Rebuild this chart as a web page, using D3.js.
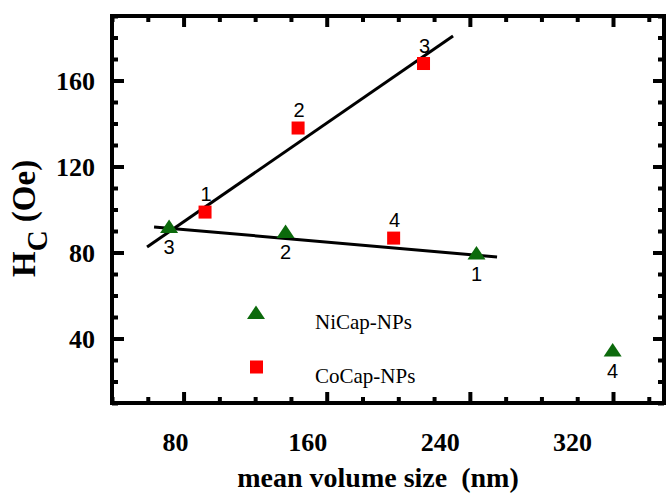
<!doctype html>
<html>
<head>
<meta charset="utf-8">
<title>Hc vs mean volume size</title>
<script src="https://d3js.org/d3.v7.min.js"></script>
<style>
  body { margin: 0; background: #fff; }
  svg text { fill: #000; }
  .tick-lbl { font-family: "Liberation Serif", "Times New Roman", serif; font-weight: bold; font-size: 26px; }
  .pt-lbl { font-family: "Liberation Sans", Arial, sans-serif; font-size: 20px; }
  .leg { font-family: "Liberation Serif", "Times New Roman", serif; font-size: 21px; }
</style>
</head>
<body>
<div id="plot"></div>
<script>
// data
const niSize = [243.7, 137, 71.9, 319.8];
const niHc   = [79.8, 89.8, 92.1, 34.7];
const niLbl  = ["1", "2", "3", "4"];

const coSize = [92, 144, 214.1, 197.4];
const coHc   = [98.8, 137.9, 167.9, 86.7];
const coLbl  = ["1", "2", "3", "4"];

// linear fit lines (end points)
const coFitX = [59.6, 230.6];
const coFitY = [82.6, 180.7];
const niFitX = [63.5, 255.2];
const niFitY = [91.9, 77.9];

const xTicks = [80, 160, 240, 320];
const yTicks = [40, 80, 120, 160];
const seriesNames = ["NiCap-NPs", "CoCap-NPs"];

const W = 667, H = 496;
const margin = {top: 16, right: 3, bottom: 93, left: 112};

const svg = d3.select("#plot").append("svg")
  .attr("width", W).attr("height", H);

const x = d3.scaleLinear().domain([40, 348.5]).range([margin.left, W - margin.right]);
const y = d3.scaleLinear().domain([10, 190]).range([H - margin.bottom, margin.top]);
// tick labels in the figure sit a bit off their ticks
const xl = d3.scaleLinear().domain([80, 320]).range([175, 572]);

const green = "#0c6a0c", red = "#ff0000";
const x0 = x.range()[0], x1 = x.range()[1], y0 = y.range()[0], y1 = y.range()[1];

// minor ticks
const xMinor = d3.range(40, 349, 20).filter(v => xTicks.indexOf(v) < 0);
const yMinor = d3.range(10, 191, 10).filter(v => yTicks.indexOf(v) < 0);

function styleAxis(g) {
  g.select(".domain").remove();
  g.selectAll(".tick line").attr("stroke", "#000").attr("stroke-width", 4);
}

// bottom
svg.append("g").attr("transform", `translate(0,${y0})`)
  .call(d3.axisBottom(x).tickValues(xMinor).tickSize(-6).tickFormat(""))
  .call(styleAxis);
const bx = svg.append("g").attr("transform", `translate(0,${y0})`)
  .call(d3.axisBottom(x).tickValues(xTicks).tickSize(-11).tickPadding(0))
  .call(styleAxis);
bx.selectAll("text").attr("class", "tick-lbl")
  .attr("x", d => xl(d) - x(d)).attr("y", 48).attr("dy", null);

// top
svg.append("g").attr("transform", `translate(0,${y1})`)
  .call(d3.axisTop(x).tickValues(xMinor).tickSize(-6).tickFormat(""))
  .call(styleAxis);
svg.append("g").attr("transform", `translate(0,${y1})`)
  .call(d3.axisTop(x).tickValues(xTicks).tickSize(-11).tickFormat(""))
  .call(styleAxis);

// left
svg.append("g").attr("transform", `translate(${x0},0)`)
  .call(d3.axisLeft(y).tickValues(yMinor).tickSize(-6).tickFormat(""))
  .call(styleAxis);
const ly = svg.append("g").attr("transform", `translate(${x0},0)`)
  .call(d3.axisLeft(y).tickValues(yTicks).tickSize(-12).tickPadding(0))
  .call(styleAxis);
ly.selectAll("text").attr("class", "tick-lbl")
  .attr("x", -17).attr("dy", "0.34em");

// right
svg.append("g").attr("transform", `translate(${x1},0)`)
  .call(d3.axisRight(y).tickValues(yMinor).tickSize(-6).tickFormat(""))
  .call(styleAxis);
svg.append("g").attr("transform", `translate(${x1},0)`)
  .call(d3.axisRight(y).tickValues(yTicks).tickSize(-11).tickFormat(""))
  .call(styleAxis);

// frame
svg.append("rect")
  .attr("x", x0).attr("y", y1).attr("width", x1 - x0).attr("height", y0 - y1)
  .attr("fill", "none").attr("stroke", "#000").attr("stroke-width", 4);

// fit lines
const line = d3.line().x(d => x(d[0])).y(d => y(d[1]));
[[coFitX, coFitY], [niFitX, niFitY]].forEach(f => {
  svg.append("path")
    .attr("d", line(d3.zip(f[0], f[1])))
    .attr("fill", "none").attr("stroke", "#000").attr("stroke-width", 3);
});

const tri = "M0,-7L9,6.5L-9,6.5Z";

// NiCap points
const ni = d3.zip(niSize, niHc, niLbl);
svg.append("g").selectAll("path").data(ni).join("path")
  .attr("d", tri).attr("fill", green)
  .attr("transform", d => `translate(${x(d[0])},${y(d[1])})`);
svg.append("g").selectAll("text").data(ni).join("text")
  .attr("class", "pt-lbl").attr("text-anchor", "middle")
  .attr("x", d => x(d[0])).attr("y", d => y(d[1]) + 28)
  .text(d => d[2]);

// CoCap points
const co = d3.zip(coSize, coHc, coLbl);
svg.append("g").selectAll("rect").data(co).join("rect")
  .attr("x", d => x(d[0]) - 6.5).attr("y", d => y(d[1]) - 6.5)
  .attr("width", 13).attr("height", 13).attr("fill", red);
svg.append("g").selectAll("text").data(co).join("text")
  .attr("class", "pt-lbl").attr("text-anchor", "middle")
  .attr("x", d => x(d[0]) + 1).attr("y", d => y(d[1]) - 11)
  .text(d => d[2]);

// legend
svg.append("path").attr("d", tri).attr("fill", green)
  .attr("transform", "translate(256,312.5)");
svg.append("text").attr("class", "leg").attr("x", 315).attr("y", 329).text(seriesNames[0]);
svg.append("rect").attr("x", 250).attr("y", 360.5).attr("width", 13).attr("height", 13).attr("fill", red);
svg.append("text").attr("class", "leg").attr("x", 315).attr("y", 383).text(seriesNames[1]);

// axis titles
svg.append("text")
  .attr("x", 378).attr("y", 487)
  .attr("text-anchor", "middle")
  .style("font-family", "'Liberation Serif', 'Times New Roman', serif")
  .style("font-weight", "bold").style("font-size", "28px")
  .style("white-space", "pre")
  .text("mean volume size  (nm)");

const yt = svg.append("text")
  .attr("transform", "translate(35,277) rotate(-90)")
  .attr("text-anchor", "start")
  .style("font-family", "'Liberation Serif', 'Times New Roman', serif")
  .style("font-weight", "bold").style("font-size", "33px");
yt.append("tspan").text("H");
yt.append("tspan").attr("dy", 12).style("font-size", "29px").text("C");
yt.append("tspan").attr("dy", -12).text(" (Oe)");
</script>
</body>
</html>
